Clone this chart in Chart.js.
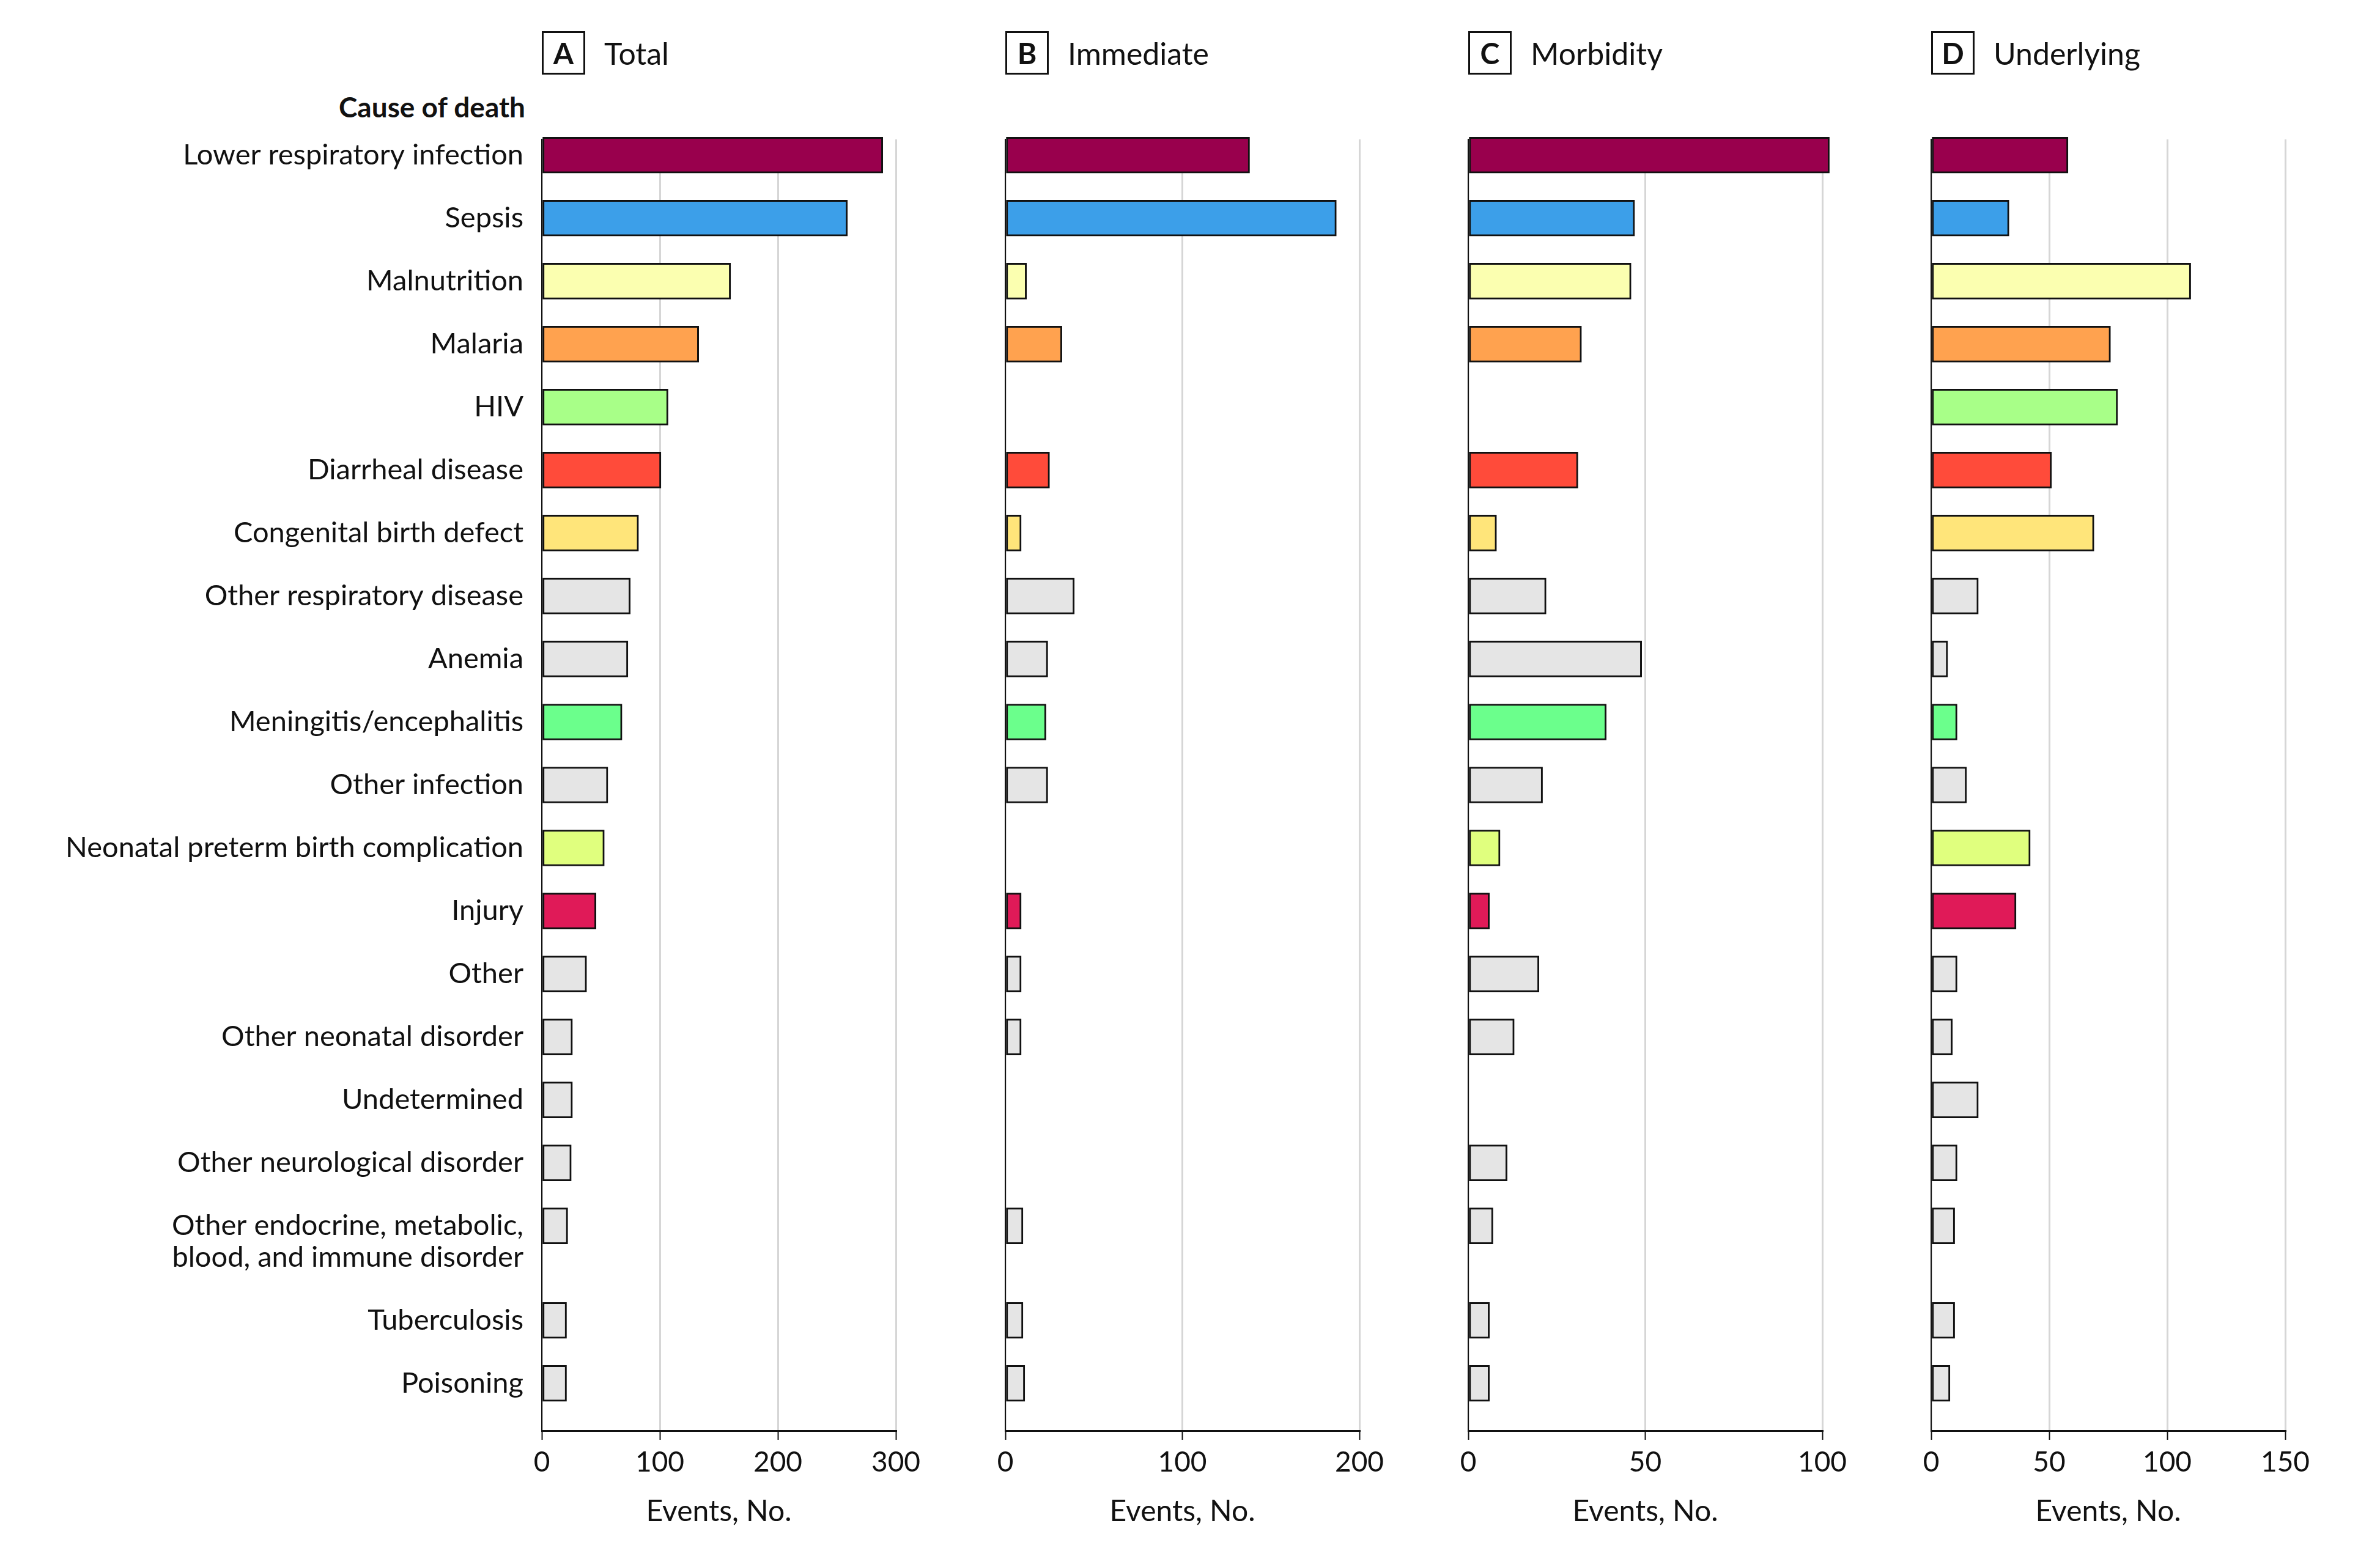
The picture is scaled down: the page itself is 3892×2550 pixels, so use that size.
<!DOCTYPE html>
<html>
<head>
<meta charset="utf-8">
<script src="https://cdn.jsdelivr.net/npm/chart.js@4.4.1/dist/chart.umd.min.js"></script>
<style>
    html, body { margin: 0; padding: 0; background: #fff; }
    #page { position: relative; width: 3892px; height: 2550px; overflow: hidden;
            font-family: Lato, 'Liberation Sans', sans-serif; color: #111; }
    #page canvas { position: absolute; top: 0; }
    .head { position: absolute; top: 51px; height: 71px; display: flex; align-items: center;
            font-size: 50px; white-space: nowrap; }
    .head .tag { box-sizing: border-box; width: 71px; height: 71px; border: 3px solid #111;
                 display: flex; align-items: center; justify-content: center;
                 font-weight: 700; font-size: 48px; margin-right: 31px; }
    #cause { position: absolute; right: 3033px; top: 145px; height: 60px; line-height: 60px;
             font-weight: 700; font-size: 46px; white-space: nowrap; }
</style>
</head>
<body>
<div id="page">
    <div id="cause">Cause of death</div>
</div>
<script>
// =========================================================================
// DATA — causes of death and event counts per panel
// =========================================================================
const causes = [
    'Lower respiratory infection', 'Sepsis', 'Malnutrition', 'Malaria', 'HIV',
    'Diarrheal disease', 'Congenital birth defect', 'Other respiratory disease', 'Anemia',
    'Meningitis/encephalitis', 'Other infection', 'Neonatal preterm birth complication',
    'Injury', 'Other', 'Other neonatal disorder', 'Undetermined', 'Other neurological disorder',
    ['Other endocrine, metabolic,', 'blood, and immune disorder'],
    'Tuberculosis', 'Poisoning'
];
const total      = [289, 259, 160, 133, 107, 101, 82, 75, 73, 68, 56, 53, 46, 38, 26, 26, 25, 22, 21, 21];
const immediate  = [138, 187, 12, 32, 0, 25, 9, 39, 24, 23, 24, 0, 9, 9, 9, 0, 0, 10, 10, 11];
const morbidity  = [102, 47, 46, 32, 0, 31, 8, 22, 49, 39, 21, 9, 6, 20, 13, 0, 11, 7, 6, 6];
const underlying = [58, 33, 110, 76, 79, 51, 69, 20, 7, 11, 15, 42, 36, 11, 9, 20, 11, 10, 10, 8];

const xTicksTotal = [0, 300, 100];      // min, max, step
const xTicksImmediate = [0, 200, 100];
const xTicksMorbidity = [0, 100, 50];
const xTicksUnderlying = [0, 150, 50];

// =========================================================================
// STYLE
// =========================================================================
const gray = '#E5E5E5';
const causeColors = [
    '#99004D', '#3C9FE9', '#FBFFB0', '#FFA24F', '#A8FF88', '#FF4B3A', '#FFE57A',
    gray, gray, '#6BFF8C', gray, '#E0FF7E', '#E01A58',
    gray, gray, gray, gray, gray, gray, gray
];
const ink = '#111';
const fontFamily = "Lato, 'Liberation Sans', sans-serif";

// half-row slots: each cause gets its bar slot + a gap slot, extra label lines get their own slot
const slots = [];
causes.forEach((c, i) => {
    const lines = Array.isArray(c) ? c : [c];
    lines.forEach((txt, j) => slots.push({ label: txt, row: j === 0 ? i : null }));
    slots.push({ label: '', row: null });
});

const panels = [
    { tag: 'A', title: 'Total',      values: total,      ticks: xTicksTotal,      left: 886,  right: 1465, labels: true },
    { tag: 'B', title: 'Immediate',  values: immediate,  ticks: xTicksImmediate,  left: 1644, right: 2223 },
    { tag: 'C', title: 'Morbidity',  values: morbidity,  ticks: xTicksMorbidity,  left: 2401, right: 2980 },
    { tag: 'D', title: 'Underlying', values: underlying, ticks: xTicksUnderlying, left: 3158, right: 3737 },
];

const page = document.getElementById('page');

const makePanel = (p) => {
    const yWidth = p.labels ? p.left : 60;
    const padRight = 60;
    const cLeft = p.left - yWidth;

    const canvas = document.createElement('canvas');
    canvas.width = p.right + padRight - cLeft;
    canvas.height = 2550;
    canvas.style.left = cLeft + 'px';
    page.appendChild(canvas);

    const head = document.createElement('div');
    head.className = 'head';
    head.style.left = p.left + 'px';
    head.innerHTML = `<span class="tag">${p.tag}</span><span>${p.title}</span>`;
    page.appendChild(head);

    const [min, max, step] = p.ticks;

    new Chart(canvas, {
        type: 'bar',
        data: {
            labels: slots.map(s => s.label),
            datasets: [{
                data: slots.map(s => (s.row === null || !p.values[s.row]) ? null : p.values[s.row]),
                backgroundColor: slots.map(s => s.row === null ? 'transparent' : causeColors[s.row]),
                borderColor: ink, borderWidth: 3, borderSkipped: false,
                barThickness: 59, clip: false
            }]
        },
        options: {
            indexAxis: 'y', responsive: false, animation: false,
            layout: { padding: { top: 228, right: padRight, bottom: 0, left: 0 } },
            plugins: { legend: { display: false }, tooltip: { enabled: false } },
            scales: {
                x: {
                    min, max,
                    ticks: { stepSize: step, color: ink, padding: 10, maxRotation: 0,
                             font: { family: fontFamily, size: 46 } },
                    grid: { color: '#D6D6D6', lineWidth: 3, tickColor: ink, tickLength: 15, tickWidth: 2 },
                    border: { color: ink, width: 3 },
                    title: { display: true, text: 'Events, No.', color: ink,
                             font: { family: fontFamily, size: 48 }, padding: { top: 0, bottom: 49 } },
                    afterFit: (s) => { s.height = 210; }
                },
                y: {
                    ticks: { display: !!p.labels, autoSkip: false, padding: 22, color: ink,
                             font: { family: fontFamily, size: 47 } },
                    grid: { display: false },
                    border: { color: ink, width: 2 },
                    afterFit: (s) => { s.width = yWidth; }
                }
            }
        }
    });
};

panels.forEach(makePanel);
</script>
</body>
</html>
